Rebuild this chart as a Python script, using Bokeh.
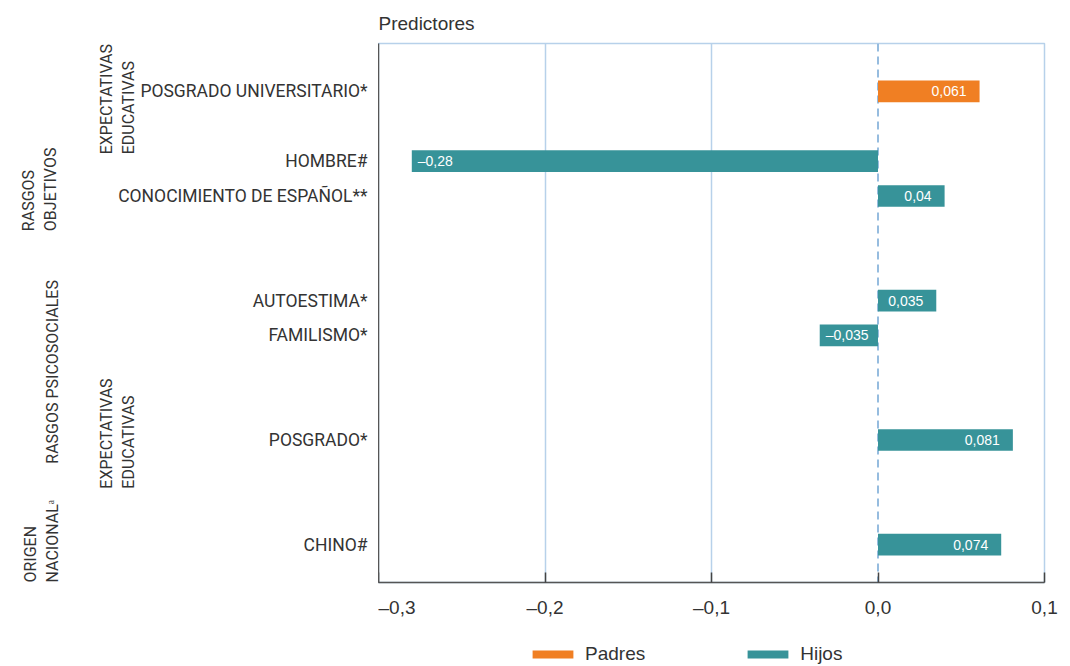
import math
from bokeh.plotting import figure
from bokeh.layouts import row, column
from bokeh.models import (ColumnDataSource, Range1d, FixedTicker, Span,
                          Legend, LegendItem, CustomJSTickFormatter)
from bokeh.embed import file_html
from bokeh.resources import INLINE
from bokeh.core.properties import value

# ---------------- data ----------------
predictors = ["POSGRADO UNIVERSITARIO*", "HOMBRE#", "CONOCIMIENTO DE ESPAÑOL**",
              "AUTOESTIMA*", "FAMILISMO*", "POSGRADO*", "CHINO#"]
series = ["Padres", "Hijos", "Hijos", "Hijos", "Hijos", "Hijos", "Hijos"]
coefs = [0.061, -0.28, 0.04, 0.035, -0.035, 0.081, 0.074]
coef_labels = ["0,061", "–0,28", "0,04", "0,035", "–0,035", "0,081", "0,074"]
x_ticks = [-0.3, -0.2, -0.1, 0.0, 0.1]
group_labels = ["EXPECTATIVAS\nEDUCATIVAS", "RASGOS\nOBJETIVOS", "RASGOS PSICOSOCIALES",
                "EXPECTATIVAS\nEDUCATIVAS", "ORIGEN\nNACIONALᵃ"]
series_names = ["Padres", "Hijos"]

# ---------------- layout / style ----------------
ORANGE = "#F07F23"
TEAL = "#379399"
GRID = "#B7D1EA"
TXT = "#333333"
LABEL_FONT = "Roboto"
SANS = "Liberation Sans"

W, H = 1070, 666
LEFT_W = 378          # width of the label column (frame starts here)
RIGHT = 26
TOP = BOTTOM = 42
FRAME_H = 540
MAIN_H = TOP + FRAME_H + BOTTOM
LEG_H = H - MAIN_H

# rows top -> bottom (blank rows give the vertical gaps between blocks)
blank_rows_after = {0: 1, 2: 2, 4: 2, 5: 2}
rows = []
for i, name in enumerate(predictors):
    rows.append(name)
    rows.extend([None] * blank_rows_after.get(i, 0))
row_pos = {name: i for i, name in enumerate(rows) if name is not None}
ys = [row_pos[n] for n in predictors]

PAD_TOP, PAD_BOTTOM = 1.375, 1.088
span_rows = (len(rows) - 1) + PAD_TOP + PAD_BOTTOM
unit = FRAME_H / span_rows          # px per row
yr = Range1d(len(rows) - 1 + PAD_BOTTOM, -PAD_TOP)

# ---------------- main plot ----------------
p = figure(width=W - LEFT_W, height=MAIN_H, x_range=Range1d(-0.3, 0.1), y_range=yr,
           min_border_left=0, min_border_right=RIGHT, min_border_top=TOP,
           min_border_bottom=BOTTOM, output_backend="svg", toolbar_location=None,
           title="Predictores")

p.title.text_font = SANS
p.title.text_font_size = "19px"
p.title.text_font_style = "normal"
p.title.text_color = TXT
p.title.align = "left"
p.title.standoff = 20

p.background_fill_color = "white"
p.border_fill_color = "white"
p.outline_line_color = GRID
p.outline_line_width = 1.5

p.ygrid.grid_line_color = None
p.xgrid.ticker = FixedTicker(ticks=[t for t in x_ticks if t != 0.0])
p.xgrid.grid_line_color = GRID
p.xgrid.grid_line_width = 1.5

p.add_layout(Span(location=0, dimension="height", line_color="#8BB5DC",
                  line_dash="8 5", line_width=1.8, level="underlay"))

colors = {"Padres": ORANGE, "Hijos": TEAL}
for s in series_names:
    idx = [i for i, ss in enumerate(series) if ss == s]
    src = ColumnDataSource(dict(y=[ys[i] for i in idx], right=[coefs[i] for i in idx]))
    p.hbar(y="y", left=0, right="right", height=0.62, source=src,
           fill_color=colors[s], line_color=None)

lab_src = ColumnDataSource(dict(
    x=coefs, y=ys, text=coef_labels,
    align=["left" if v < 0 else "right" for v in coefs],
    xoff=[6 if v < 0 else -13 for v in coefs]))
p.text(x="x", y="y", text="text", source=lab_src, text_align="align",
       x_offset="xoff", text_baseline="middle", text_color="white",
       text_font=value(SANS), text_font_size="14px")

xa = p.xaxis[0]
xa.ticker = FixedTicker(ticks=x_ticks)
xa.formatter = CustomJSTickFormatter(
    code="return (tick < -1e-9 ? '–' : '') + Math.abs(tick).toFixed(1).replace('.', ',');")
xa.major_tick_in = 10
xa.major_tick_out = 0
xa.minor_tick_line_color = None
xa.axis_line_color = "#555555"
xa.axis_line_width = 1.5
xa.major_tick_line_color = "#444444"
xa.major_tick_line_width = 1.5
xa.major_label_standoff = 14
xa.major_label_text_font = SANS
xa.major_label_text_font_size = "19px"
xa.major_label_text_color = TXT

ya = p.yaxis[0]
ya.ticker = FixedTicker(ticks=[])
ya.minor_tick_line_color = None
ya.major_tick_line_color = None
ya.major_tick_in = 0
ya.major_tick_out = 0
ya.major_label_standoff = 0
ya.axis_line_color = "#555555"
ya.axis_line_width = 1.5

# ---------------- label column (category + group labels) ----------------
L = figure(width=LEFT_W, height=MAIN_H, x_range=Range1d(0, LEFT_W), y_range=yr,
           min_border_left=0, min_border_right=0, min_border_top=TOP,
           min_border_bottom=BOTTOM, x_axis_location=None, y_axis_location=None,
           output_backend="svg", toolbar_location=None)
L.outline_line_color = None
L.background_fill_color = "white"
L.border_fill_color = "white"
for g in L.grid:
    g.visible = False

L.text(x=[LEFT_W - 11] * len(predictors), y=ys, text=predictors,
       text_align="right", text_baseline="middle", text_color=TXT,
       text_font=value(LABEL_FONT), text_font_size="17.5px")

# group label anchors in canvas px: (x centre, bottom end of the rotated text)
group_anchor_px = [(117, 153), (39, 230), (52, 463), (117, 488), (41, 582)]
gx = [a for a, _ in group_anchor_px]
gy = [(b - TOP) / unit - PAD_TOP for _, b in group_anchor_px]
L.text(x=gx, y=gy, text=group_labels, angle=math.pi / 2, text_align="left",
       text_baseline="middle", text_color=TXT, text_font=value(LABEL_FONT),
       text_font_size="16px", text_line_height=1.2)

# ---------------- legend strip ----------------
lf = figure(width=W, height=LEG_H, x_range=Range1d(0, W), y_range=Range1d(0, LEG_H),
            min_border=0, x_axis_location=None, y_axis_location=None,
            output_backend="svg", toolbar_location=None)
lf.outline_line_color = None
for g in lf.grid:
    g.visible = False
leg_r = {s: lf.hbar(y=[-100], right=[1], left=[0], height=1, fill_color=colors[s],
                    line_color=None) for s in series_names}
legend = Legend(items=[LegendItem(label=s, renderers=[leg_r[s]]) for s in series_names],
                orientation="horizontal", location=(527, 1),
                glyph_width=51, glyph_height=10, label_standoff=7, spacing=97,
                padding=0, margin=0, border_line_color=None, background_fill_alpha=0,
                label_text_font=SANS, label_text_font_size="19px", label_text_color=TXT)
lf.add_layout(legend, "center")

layout = column(row(L, p), lf)
open("out.html", "w").write(file_html(layout, INLINE))
